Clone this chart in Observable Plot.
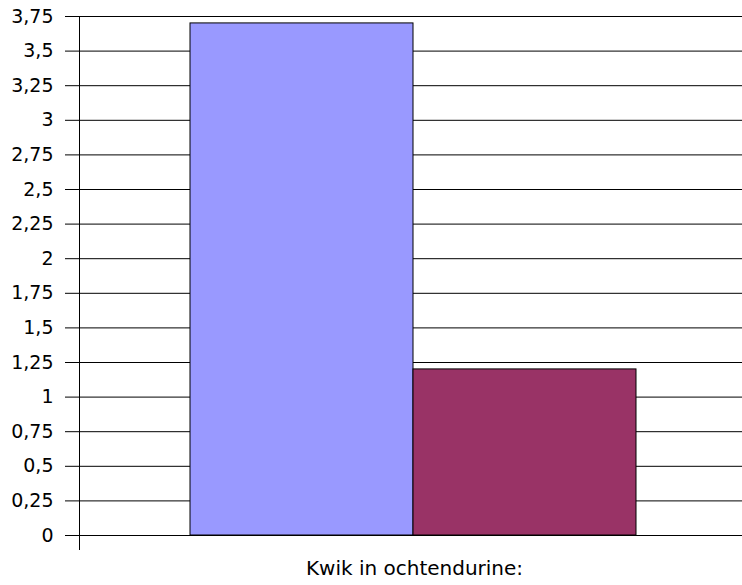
<!DOCTYPE html>
<html>
<head>
<meta charset="utf-8">
<script src="https://cdn.jsdelivr.net/npm/d3@7"></script>
<script src="https://cdn.jsdelivr.net/npm/@observablehq/plot@0.6"></script>
<style>
  html, body { margin: 0; padding: 0; background: #fff; }
  svg { display: block; }
</style>
</head>
<body>
<div id="chart"></div>
<script>
const series = ["Reeks 1", "Reeks 2"];
const values = [3.7, 1.2];
const colors = ["#9999FF", "#993366"];
const yTickValues = [0, 0.25, 0.5, 0.75, 1, 1.25, 1.5, 1.75, 2, 2.25, 2.5, 2.75, 3, 3.25, 3.5, 3.75];
const yTickLabels = ["0", "0,25", "0,5", "0,75", "1", "1,25", "1,5", "1,75", "2", "2,25", "2,5", "2,75", "3", "3,25", "3,5", "3,75"];
const xTitle = "Kwik in ochtendurine:";

const data = series.map((s, i) => ({series: s, value: values[i]}));

const chart = Plot.plot({
  width: 742,
  height: 585,
  marginLeft: 79,
  marginRight: 0,
  marginTop: 16,
  marginBottom: 36,
  style: {fontFamily: "DejaVu Sans, Verdana, sans-serif", fontSize: "19px", color: "#000", background: "#fff"},
  x: {domain: series, range: [190, 636], padding: 0, axis: null},
  y: {domain: [0, 3.75], range: [535, 16]},
  color: {domain: series, range: colors},
  marks: [
    Plot.ruleY(yTickValues, {stroke: "#000", strokeWidth: 1}),
    Plot.barY(data, {x: "series", y: "value", fill: "series", stroke: "#000", strokeWidth: 1, inset: 0}),
    Plot.axisY({
      ticks: yTickValues,
      tickFormat: (d) => yTickLabels[yTickValues.indexOf(d)],
      tickSize: 14,
      tickPadding: 12,
      stroke: "#000",
      strokeOpacity: 1,
      label: null,
      fontSize: 19
    }),
    Plot.frame({anchor: "left", stroke: "#000"}),
    Plot.text([xTitle], {
      frameAnchor: "bottom",
      text: (d) => d,
      dx: 3.5,
      dy: 25,
      fontSize: 20,
      fill: "#000"
    })
  ]
});
document.getElementById("chart").appendChild(chart);
</script>
</body>
</html>
